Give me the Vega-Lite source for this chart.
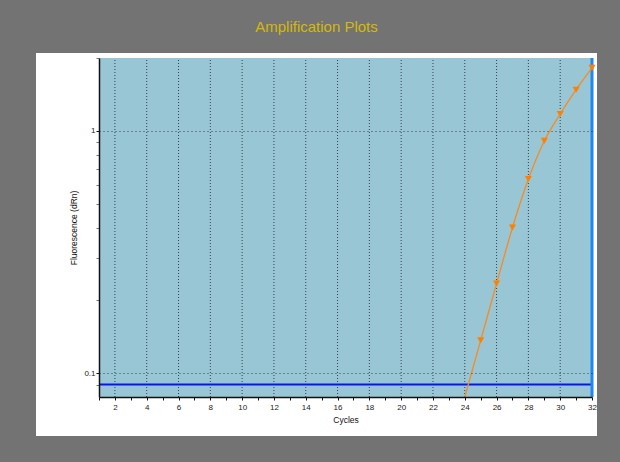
{
  "$schema": "https://vega.github.io/schema/vega-lite/v6.json",
  "width": 561,
  "height": 383,
  "autosize": {"type": "none"},
  "padding": {"left": 36, "top": 53, "right": 23, "bottom": 26},
  "background": "#737373",
  "config": {
    "view": {"fill": "white", "stroke": null},
    "font": "Liberation Sans"
  },
  "title": {
    "text": "Amplification Plots",
    "color": "#d4b90a",
    "font": "Liberation Sans",
    "fontSize": 15,
    "fontWeight": "normal",
    "anchor": "middle",
    "frame": "group",
    "baseline": "alphabetic",
    "offset": 6
  },
  "data": {
    "values": [
      {"cycle": 24, "dRn": 0.05},
      {"cycle": 25, "dRn": 0.137},
      {"cycle": 26, "dRn": 0.235},
      {"cycle": 27, "dRn": 0.4},
      {"cycle": 28, "dRn": 0.634},
      {"cycle": 29, "dRn": 0.91},
      {"cycle": 30, "dRn": 1.175},
      {"cycle": 31, "dRn": 1.48},
      {"cycle": 32, "dRn": 1.82}
    ]
  },
  "layer": [
    {
      "data": {"values": [{"x0": 1, "x1": 32, "y0": 0.08, "y1": 2}]},
      "mark": {"type": "rect", "color": "#99c6d5"},
      "encoding": {
        "x": {
          "field": "x0",
          "type": "quantitative",
          "scale": {"domain": [1, 32], "range": [63, 556], "nice": false, "zero": false},
          "axis": {
            "orient": "bottom",
            "offset": -39,
            "zindex": 1,
            "title": "Cycles",
            "titleFont": "Liberation Sans",
            "titleFontSize": 8.5,
            "titleFontWeight": "normal",
            "titleColor": "#111111",
            "titlePadding": 4,
            "values": [1, 2, 3, 4, 5, 6, 7, 8, 9, 10, 11, 12, 13, 14, 15, 16, 17, 18, 19, 20, 21, 22, 23, 24, 25, 26, 27, 28, 29, 30, 31, 32],
            "tickCount": 100,
            "format": "d",
            "labelExpr": "datum.value % 2 == 0 ? datum.label : ''",
            "labelFontSize": 8,
            "labelColor": "#222222",
            "labelPadding": 3,
            "labelFlush": false,
            "labelOverlap": false,
            "tickSize": 3,
            "tickColor": "#111111",
            "domainColor": "#111111",
            "domainWidth": 1.5,
            "grid": false
          }
        },
        "x2": {"field": "x1"},
        "y": {
          "field": "y0",
          "type": "quantitative",
          "scale": {"type": "log", "domain": [0.08, 2], "range": [344, 5], "nice": false, "zero": false, "clamp": true},
          "axis": {
            "orient": "left",
            "offset": -63,
            "zindex": 1,
            "title": "Fluorescence (dRn)",
            "titleFont": "Liberation Sans",
            "titleFontSize": 8.5,
            "titleFontWeight": "normal",
            "titleColor": "#111111",
            "titlePadding": 5,
            "values": [0.09, 0.1, 0.2, 0.3, 0.4, 0.5, 0.6, 0.7, 0.8, 0.9, 1, 2],
            "tickCount": 100,
            "labelExpr": "datum.value == 1 ? '1' : (datum.value == 0.1 ? '0.1' : '')",
            "labelFontSize": 8,
            "labelColor": "#222222",
            "labelPadding": 1,
            "labelFlush": false,
            "labelOverlap": false,
            "tickSize": 3,
            "tickColor": {"condition": {"test": "datum.value == 1 || datum.value == 0.1", "value": "#111111"}, "value": "#777777"},
            "domainColor": "#111111",
            "domainWidth": 1.5,
            "grid": true,
            "gridColor": "#1c2c3a",
            "gridDash": [1, 3],
            "gridWidth": 1,
            "gridOpacity": {"condition": {"test": "datum.value == 1 || datum.value == 0.1", "value": 0.85}, "value": 0}
          }
        },
        "y2": {"field": "y1"}
      }
    },
    {
      "data": {
        "values": [
          {"g": 2, "y0": 0.08, "y1": 2}, {"g": 4, "y0": 0.08, "y1": 2}, {"g": 6, "y0": 0.08, "y1": 2},
          {"g": 8, "y0": 0.08, "y1": 2}, {"g": 10, "y0": 0.08, "y1": 2}, {"g": 12, "y0": 0.08, "y1": 2},
          {"g": 14, "y0": 0.08, "y1": 2}, {"g": 16, "y0": 0.08, "y1": 2}, {"g": 18, "y0": 0.08, "y1": 2},
          {"g": 20, "y0": 0.08, "y1": 2}, {"g": 22, "y0": 0.08, "y1": 2}, {"g": 24, "y0": 0.08, "y1": 2},
          {"g": 26, "y0": 0.08, "y1": 2}, {"g": 28, "y0": 0.08, "y1": 2}, {"g": 30, "y0": 0.08, "y1": 2}
        ]
      },
      "mark": {"type": "rule", "color": "#1c2c3a", "strokeWidth": 1, "strokeDash": [1, 2], "opacity": 0.85},
      "encoding": {
        "x": {"field": "g", "type": "quantitative"},
        "y": {"field": "y0", "type": "quantitative"},
        "y2": {"field": "y1"}
      }
    },
    {
      "data": {"values": [{"x0": 1, "x1": 32, "t": 0.09}]},
      "mark": {"type": "rule", "color": "#0a14f0", "strokeWidth": 2},
      "encoding": {
        "x": {"field": "x0", "type": "quantitative"},
        "x2": {"field": "x1"},
        "y": {"field": "t", "type": "quantitative"}
      }
    },
    {
      "data": {"values": [{"c": 32, "y0": 0.08, "y1": 2}]},
      "mark": {"type": "rule", "color": "#1e88f0", "strokeWidth": 3},
      "encoding": {
        "x": {"field": "c", "type": "quantitative"},
        "y": {"field": "y0", "type": "quantitative"},
        "y2": {"field": "y1"}
      }
    },
    {
      "mark": {"type": "line", "color": "#f88a20", "strokeWidth": 1.3, "interpolate": "monotone"},
      "encoding": {
        "x": {"field": "cycle", "type": "quantitative"},
        "y": {"field": "dRn", "type": "quantitative"}
      }
    },
    {
      "transform": [{"filter": "datum.dRn >= 0.08"}],
      "mark": {"type": "point", "shape": "triangle-down", "filled": true, "color": "#ff7f00", "size": 50, "opacity": 1},
      "encoding": {
        "x": {"field": "cycle", "type": "quantitative"},
        "y": {"field": "dRn", "type": "quantitative"}
      }
    }
  ]
}
